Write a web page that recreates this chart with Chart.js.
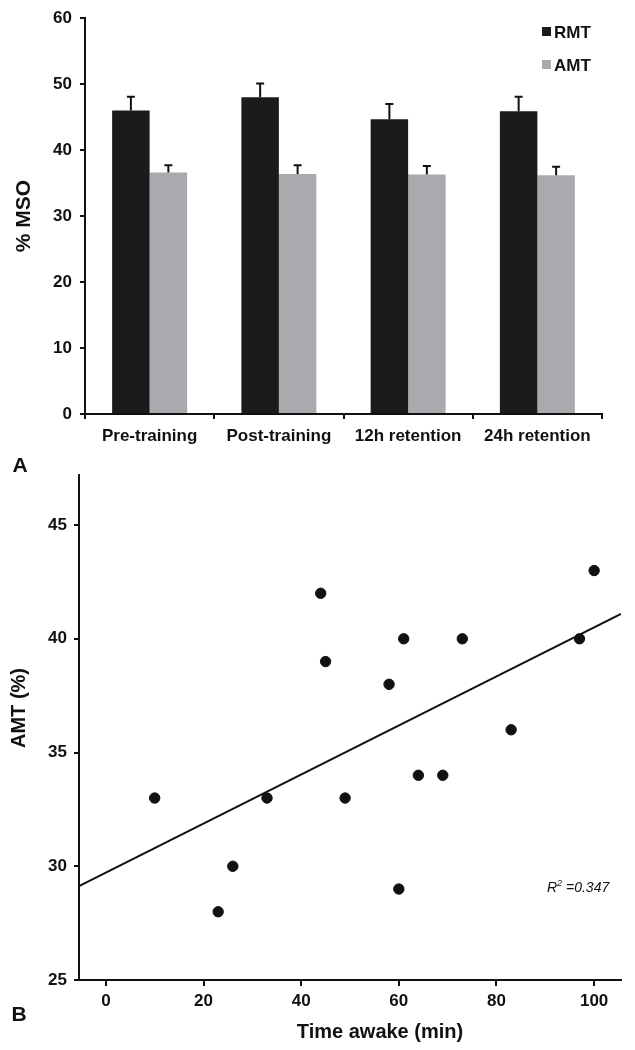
<!DOCTYPE html>
<html>
<head>
<meta charset="utf-8">
<script src="https://cdn.jsdelivr.net/npm/chart.js@4.4.0/dist/chart.umd.min.js"></script>
<style>
  html, body { margin: 0; padding: 0; background: #fff; }
  #wrap { position: relative; width: 635px; height: 1050px; }
  canvas { position: absolute; left: 0; }
  #barChart { top: 0; }
  #scatterChart { top: 450px; }
</style>
</head>
<body>
<div id="wrap">
  <canvas id="barChart" width="635" height="450"></canvas>
  <canvas id="scatterChart" width="635" height="600"></canvas>
</div>
<script>
// Panel A - thresholds per session
const sessions = ['Pre-training', 'Post-training', '12h retention', '24h retention'];
const rmtValues = [46.0, 48.0, 44.7, 45.9];
const rmtErrors = [2.1, 2.1, 2.3, 2.2];
const amtValues = [36.6, 36.4, 36.3, 36.2];
const amtErrors = [1.1, 1.3, 1.3, 1.3];

// Panel B - AMT vs time awake
const timeAwake = [10, 23, 26, 33, 44, 45, 49, 58, 60, 61, 64, 69, 73, 83, 97, 100];
const amtPercent = [33, 28, 30, 33, 42, 39, 33, 38, 29, 40, 34, 34, 40, 36, 40, 43];
const fitX = [-5.5, 105.5];
const fitY = [29.13, 41.09];
const xTicksB = [0, 20, 40, 60, 80, 100];
const yTicksB = [25, 30, 35, 40, 45];

const FONT = '"Liberation Sans", Arial, Helvetica, sans-serif';
const INK = '#111';

// error bars (upper only) for the bar chart
const errorBarPlugin = {
    id: 'errorBars',
    afterDatasetsDraw(chart) {
        const ctx = chart.ctx;
        const yScale = chart.scales.y;
        ctx.save();
        ctx.strokeStyle = INK;
        ctx.lineWidth = 2;
        chart.data.datasets.forEach((ds, i) => {
            const meta = chart.getDatasetMeta(i);
            meta.data.forEach((bar, j) => {
                const top = yScale.getPixelForValue(ds.data[j] + ds.errors[j]);
                ctx.beginPath();
                ctx.moveTo(bar.x, bar.y);
                ctx.lineTo(bar.x, top);
                ctx.moveTo(bar.x - 4, top);
                ctx.lineTo(bar.x + 4, top);
                ctx.stroke();
            });
        });
        ctx.restore();
    }
};

// small legend in the top right corner
const cornerLegend = {
    id: 'cornerLegend',
    afterDraw(chart) {
        const ctx = chart.ctx;
        ctx.save();
        ctx.font = 'bold 17px ' + FONT;
        ctx.textBaseline = 'middle';
        chart.data.datasets.forEach((ds, i) => {
            const y = 32 + i * 33;
            ctx.fillStyle = ds.backgroundColor;
            ctx.fillRect(542, y - 5, 9, 9);
            ctx.fillStyle = INK;
            ctx.fillText(ds.label, 554, y + 1);
        });
        ctx.restore();
    }
};

function labelsPlugin(items) {
    return {
        id: 'labels',
        afterDraw(chart) {
            const ctx = chart.ctx;
            ctx.save();
            ctx.fillStyle = INK;
            ctx.textBaseline = 'middle';
            items.forEach(t => {
                ctx.save();
                ctx.font = t.font;
                ctx.textAlign = t.align || 'center';
                ctx.translate(t.x, t.y);
                if (t.rotate) ctx.rotate(t.rotate);
                ctx.fillText(t.text, 0, 0);
                ctx.restore();
            });
            ctx.restore();
        }
    };
}

function axisStyle(tickLen, pad) {
    return {
        border: { display: true, color: INK, width: 2 },
        grid: { display: true, drawOnChartArea: false, drawTicks: true, tickLength: tickLen, color: INK, lineWidth: 2 },
        ticks: { color: INK, padding: pad, font: { family: FONT, size: 17, weight: 'bold' } }
    };
}

const barY = axisStyle(5, 8);
const barX = axisStyle(5, 7);

new Chart(document.getElementById('barChart'), {
    type: 'bar',
    data: {
        labels: sessions,
        datasets: [
            { label: 'RMT', data: rmtValues, errors: rmtErrors, backgroundColor: '#1c1a1b', borderWidth: 0 },
            { label: 'AMT', data: amtValues, errors: amtErrors, backgroundColor: '#a9aaad', borderWidth: 0 }
        ]
    },
    options: {
        responsive: false,
        animation: false,
        layout: { padding: { top: 14, right: 33, left: 0, bottom: 0 } },
        datasets: { bar: { categoryPercentage: 0.58, barPercentage: 1.0 } },
        plugins: { legend: { display: false }, tooltip: { enabled: false } },
        scales: {
            x: Object.assign({}, barX, {
                afterFit: s => { s.height = 36; }
            }),
            y: Object.assign({}, barY, {
                min: 0, max: 60,
                ticks: Object.assign({}, barY.ticks, { stepSize: 10 }),
                afterFit: s => { s.width = 85; }
            })
        }
    },
    plugins: [errorBarPlugin, cornerLegend, labelsPlugin([
        { text: '% MSO', x: 24, y: 216, font: 'bold 21px ' + FONT, rotate: -Math.PI / 2 }
    ])]
});

const scY = axisStyle(5, 7);
const scX = axisStyle(6, 5);

new Chart(document.getElementById('scatterChart'), {
    type: 'scatter',
    data: {
        datasets: [
            {
                label: 'AMT',
                data: timeAwake.map((t, i) => ({ x: t, y: amtPercent[i] })),
                backgroundColor: INK,
                borderColor: INK,
                pointRadius: 5.2,
                pointHoverRadius: 5.2
            },
            {
                type: 'line',
                label: 'fit',
                data: fitX.map((x, i) => ({ x: x, y: fitY[i] })),
                borderColor: INK,
                borderWidth: 2,
                pointRadius: 0,
                fill: false
            }
        ]
    },
    options: {
        responsive: false,
        animation: false,
        layout: { padding: { top: 25, right: 14, left: 0, bottom: 0 } },
        plugins: { legend: { display: false }, tooltip: { enabled: false } },
        scales: {
            x: Object.assign({}, scX, {
                type: 'linear',
                min: -5.5, max: 105.5,
                afterBuildTicks: s => { s.ticks = xTicksB.map(v => ({ value: v })); },
                afterFit: s => { s.height = 70; }
            }),
            y: Object.assign({}, scY, {
                min: 25, max: 47.2,
                afterBuildTicks: s => { s.ticks = yTicksB.map(v => ({ value: v })); },
                afterFit: s => { s.width = 79; }
            })
        }
    },
    plugins: [labelsPlugin([
        { text: 'A', x: 20, y: 16, font: 'bold 21px ' + FONT },
        { text: 'B', x: 19, y: 565, font: 'bold 21px ' + FONT },
        { text: 'AMT (%)', x: 19, y: 258, font: 'bold 20px ' + FONT, rotate: -Math.PI / 2 },
        { text: 'Time awake (min)', x: 380, y: 582, font: 'bold 20px ' + FONT },
        { text: 'R', x: 547, y: 438, font: 'italic 14px ' + FONT, align: 'left' },
        { text: '2', x: 557, y: 433, font: 'italic 9px ' + FONT, align: 'left' },
        { text: '=0.347', x: 566, y: 438, font: 'italic 14px ' + FONT, align: 'left' }
    ])]
});
</script>
</body>
</html>
